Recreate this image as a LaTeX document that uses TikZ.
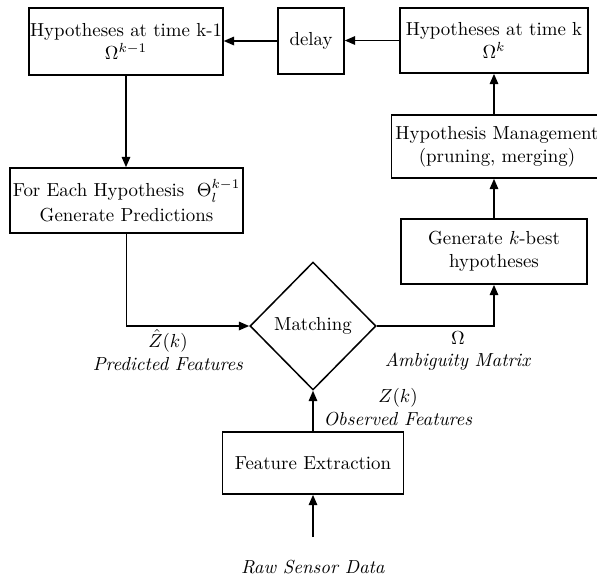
\documentclass[tikz,border=0pt]{standalone}
\usetikzlibrary{shapes.geometric,arrows.meta}
\begin{document}
\begin{tikzpicture}[x=0.53pt,y=-0.53pt,
  box/.style={draw,line width=0.8pt,align=center,inner sep=0.5pt},
  arr/.style={line width=0.9pt,-{Triangle[length=5.5pt,width=4.5pt]}},
  lbl/.style={align=center,inner sep=0pt}]
\useasboundingbox (0,0) rectangle (597,577);
\node[box,minimum width=101.8pt,minimum height=35.5pt] (h1) at (126,41.5) {Hypotheses at time k-1\\$\Omega^{k-1}$};
\node[box,minimum width=35pt,minimum height=35pt] (dl) at (311,41) {delay};
\node[box,minimum width=99.6pt,minimum height=34.5pt] (hk) at (494,40.5) {Hypotheses at time k\\$\Omega^{k}$};
\node[box,minimum width=112pt,minimum height=33.4pt] (hm) at (497,146.5) {Hypothesis Management\\(pruning, merging)};
\node[box,minimum width=98.6pt,minimum height=34.5pt] (gen) at (494,251.5) {Generate $k$-best\\hypotheses};
\node[box,minimum width=123.5pt,minimum height=34.5pt] (fe1) at (126.5,200.5) {For Each Hypothesis~~$\Theta_l^{k-1}$\\[1pt]Generate Predictions};
\node[draw,diamond,line width=0.8pt,inner sep=0pt,minimum width=66.8pt,minimum height=67.8pt] (m) at (313,326) {Matching};
\node[box,minimum width=96pt,minimum height=32.9pt] (fx) at (313,463) {Feature Extraction};
\coordinate (raw) at (313,537);
\node[lbl] (rawl) at (313,567) {\textit{Raw Sensor Data}};
\node[lbl] (pf) at (168,350) {$\hat{Z}(k)$\\\textit{Predicted Features}};
\node[lbl] (am) at (458,351) {$\Omega$\\\textit{Ambiguity Matrix}};
\node[lbl] (of) at (398,407) {$Z(k)$\\\textit{Observed Features}};
\draw[arr] (dl.west) -- (dl.west -| h1.east);
\draw[arr] (hk.west) -- (hk.west -| dl.east);
\draw[arr] (gen.north |- hm.north) -- (gen.north |- hk.south);
\draw[arr] (gen.north) -- (hm.south -| gen.north);
\draw[arr] (h1.south) -- (h1.south |- fe1.north);
\draw[arr] (fe1.south) |- (m.west);
\draw[arr] (m.east) -| (gen.south);
\draw[arr] (fx.north) -- (m.south);
\draw[arr] (raw) -- (fx.south);
\end{tikzpicture}
\end{document}
